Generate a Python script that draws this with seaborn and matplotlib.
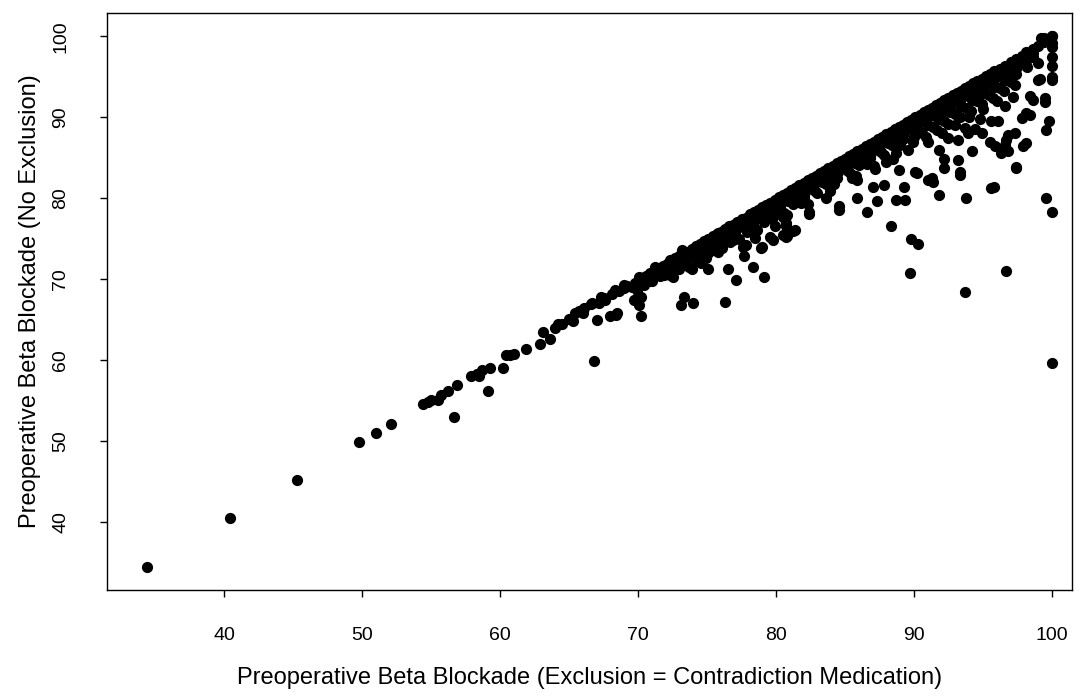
import seaborn as sns
import pandas as pd
import matplotlib.pyplot as plt

# lower tail, x < 64 (excl = exclusion, no_excl = no exclusion)
tail_excl = [34.4, 40.4, 45.3, 49.8, 51.0, 52.1, 54.4, 54.8, 55.0, 55.5, 55.7, 56.2, 56.9, 56.7,
             57.9, 58.3, 58.5, 58.7, 59.3, 59.1, 60.2, 60.4, 60.7, 61.0, 61.9, 62.9, 63.1, 63.6]
tail_no_excl = [34.4, 40.4, 45.2, 49.8, 51.0, 52.1, 54.6, 54.8, 55.1, 55.0, 55.7, 56.2, 56.9, 52.9,
                58.0, 58.2, 58.0, 58.8, 59.0, 56.2, 59.0, 60.6, 60.6, 60.7, 61.4, 62.0, 63.4, 62.6]

# 64 - 70
mid_excl = [64.0, 64.2, 64.5, 65.0, 65.3, 65.4, 65.7, 66.0, 66.1, 66.6, 66.7, 67.0, 66.8, 67.2,
            67.3, 67.5, 67.6, 68.0, 68.1, 68.4, 68.5, 68.3, 68.6, 69.0, 69.0, 69.2, 69.6, 69.7,
            69.9, 70.1, 70.2, 70.25, 69.8, 70.1, 70.3, 70.5, 69.9, 70.4, 70.6]
mid_no_excl = [64.0, 64.5, 64.4, 65.1, 64.8, 65.8, 66.0, 65.8, 66.4, 66.9, 67.0, 64.95, 59.9, 67.1,
               67.8, 67.6, 67.4, 65.4, 68.2, 65.6, 65.85, 68.7, 68.5, 68.9, 69.3, 69.1, 69.0, 67.4,
               67.6, 66.8, 65.4, 67.8, 69.5, 70.3, 70.1, 70.3, 68.7, 69.3, 70.4]

# 70 - 80 band
band70_excl = [70.9, 71.2, 71.5, 71.8, 72.1, 72.4, 72.7, 73.0, 73.3, 73.6, 73.9, 74.2, 74.5, 74.8,
               75.1, 75.4, 75.7, 76.0, 76.3, 76.6, 76.9, 77.2, 77.5, 77.8, 78.1, 78.4, 78.7, 79.0,
               79.3, 79.6, 79.9,
               71.0, 71.6, 72.2, 72.8, 73.4, 74.0, 74.6, 75.2, 75.8, 76.4, 77.0, 77.6, 78.2, 78.8,
               79.4, 72.5, 73.7, 74.9, 76.1, 77.3, 78.5, 79.7,
               71.9, 73.0, 74.3, 75.5, 76.7, 77.9, 79.1, 73.1, 75.9, 78.3, 79.9]
band70_no_excl = [70.8, 70.9, 71.3, 71.6, 71.9, 72.2, 72.6, 72.8, 73.2, 73.4, 73.7, 74.1, 74.3, 74.7,
                  74.9, 75.3, 75.6, 75.8, 76.2, 76.5, 76.7, 77.1, 77.4, 77.6, 78.0, 78.3, 78.5, 78.9,
                  79.2, 79.4, 79.8,
                  69.8, 70.4, 71.0, 71.5, 72.2, 72.8, 73.4, 74.0, 74.5, 75.2, 75.8, 76.4, 77.0, 77.5,
                  78.2, 70.3, 71.5, 72.6, 73.8, 75.0, 76.2, 77.4,
                  70.5, 71.2, 72.3, 73.6, 74.6, 75.8, 77.0, 71.8, 74.4, 76.8, 78.6]

# 70 - 80 below the band
low70_excl = [70.9, 71.2, 72.0, 72.3, 72.3, 73.2, 73.3, 73.1, 74.0, 74.2, 75.1, 75.6, 75.8, 76.3,
              76.0, 76.5, 77.1, 77.6, 77.7, 78.3, 78.9, 79.1, 79.6, 79.6, 80.5, 81.2, 80.5, 80.8,
              76.9, 77.8, 78.5, 78.6, 78.0, 79.5, 80.3, 80.7, 73.9, 74.6, 75.1, 75.8]
low70_no_excl = [69.7, 71.5, 70.7, 70.5, 72.4, 73.6, 67.8, 66.8, 67.0, 72.4, 71.3, 73.6, 73.4, 67.2,
                 75.25, 71.3, 69.9, 74.0, 72.8, 71.5, 73.8, 70.3, 75.25, 78.1, 77.7, 75.9, 75.5, 75.3,
                 74.8, 74.2, 75.05, 76.1, 76.7, 78.1, 78.1, 76.9, 71.3, 72.0, 73.2, 75.7]

# 80 - 90 band
band80_excl = [80.2, 80.5, 80.8, 81.1, 81.4, 81.7, 82.0, 82.3, 82.6, 82.9, 83.2, 83.5, 83.8, 84.1,
               84.4, 84.7, 85.0, 85.3, 85.6, 85.9, 86.2, 86.5, 86.8, 87.1, 87.4, 87.7, 88.0, 88.3,
               88.6, 88.9, 89.2, 89.5, 89.8,
               80.3, 80.9, 81.5, 82.1, 82.7, 83.3, 83.9, 84.5, 85.1, 85.7, 86.3, 86.9, 87.5, 88.1,
               88.7, 89.3, 89.9, 80.6, 81.8, 83.0, 84.2, 85.4, 86.6, 87.8, 89.0, 90.0,
               83.6, 85.9, 87.2, 88.5, 89.6,
               80.4, 81.0, 81.6, 82.2, 82.8, 83.4, 84.0, 84.6, 85.2, 85.8, 86.4, 87.0, 87.6, 88.2,
               88.8, 89.4,
               81.2, 82.0, 82.8, 83.6, 84.4, 85.2, 86.0, 86.8, 87.6, 88.4, 89.2,
               82.3, 83.9, 85.5, 87.1, 88.7, 89.9]
band80_no_excl = [80.1, 80.4, 80.7, 81.0, 81.3, 81.6, 81.9, 82.2, 82.5, 82.8, 83.1, 83.4, 83.7, 84.0,
                  84.3, 84.6, 84.9, 85.2, 85.5, 85.8, 86.1, 86.4, 86.7, 87.0, 87.3, 87.6, 87.9, 88.2,
                  88.5, 88.8, 89.1, 89.4, 89.7,
                  79.0, 79.6, 80.2, 80.8, 81.4, 82.0, 82.6, 83.2, 83.8, 84.4, 85.0, 85.6, 86.2, 86.8,
                  87.4, 88.0, 88.6, 78.2, 79.4, 80.6, 81.8, 83.0, 84.2, 85.4, 86.6, 87.6,
                  80.0, 82.3, 83.6, 84.9, 86.0,
                  79.7, 80.3, 80.9, 81.6, 82.1, 82.8, 83.3, 84.0, 84.5, 85.2, 85.7, 86.4, 86.9, 87.6,
                  88.1, 88.8,
                  79.3, 80.2, 80.9, 81.8, 82.5, 83.4, 84.1, 85.0, 85.7, 86.6, 87.3,
                  79.3, 80.9, 82.5, 84.0, 85.6, 86.9]

# 80 - 90 below the band
low80_excl = [80.8, 82.4, 84.6, 84.6, 85.9, 86.6, 87.35, 87.8, 88.7, 89.35, 89.3, 88.3, 89.8, 90.3,
              91.0, 90.1, 80.7, 79.95, 81.4, 80.7, 79.8, 79.0, 85.8, 87.0, 87.95, 88.9, 82.4]
low80_no_excl = [77.9, 78.1, 79.0, 78.6, 80.0, 78.3, 79.6, 81.65, 79.8, 79.8, 81.4, 76.6, 74.9, 74.3,
                 82.3, 83.3, 76.5, 76.5, 76.1, 75.25, 74.8, 74.0, 82.7, 81.4, 84.5, 83.5, 78.3]

# 90 - 100 band
band90_excl = [90.1, 90.4, 90.7, 91.0, 91.3, 91.6, 91.9, 92.2, 92.5, 92.8, 93.1, 93.4, 93.7, 94.0,
               94.3, 94.6, 94.9, 95.2, 95.5, 95.8, 96.2, 96.6, 97.0, 97.4, 97.8, 98.2, 98.6, 99.0,
               99.4, 99.8, 100.0,
               90.3, 90.9, 91.5, 92.1, 92.7, 93.3, 93.9, 94.5, 95.1, 95.7, 96.3, 96.9, 97.5,
               90.6, 91.4, 92.2, 93.0, 93.8, 94.6, 95.4, 96.2, 97.0,
               91.0, 92.0, 93.0, 94.0, 95.0, 96.0, 91.8, 93.2, 94.4, 95.6,
               90.8, 91.4, 92.0, 92.6, 93.2, 93.8, 94.4, 95.0, 95.6, 96.2, 96.8, 97.4, 98.0, 98.6,
               91.0, 91.8, 92.6, 93.4, 94.2, 95.0, 95.8, 96.6, 97.4, 98.2,
               90.9, 91.7, 92.5, 93.3, 94.1, 94.9, 95.7, 96.5, 97.3,
               92.5, 93.7, 94.8, 96.6, 97.2]
band90_no_excl = [90.0, 90.3, 90.6, 90.9, 91.2, 91.5, 91.8, 92.1, 92.4, 92.7, 93.0, 93.3, 93.6, 93.9,
                  94.2, 94.5, 94.8, 95.1, 95.4, 95.7, 96.0, 96.4, 96.8, 97.2, 97.6, 98.0, 98.4, 98.8,
                  99.3, 99.6, 100.0,
                  89.0, 89.6, 90.2, 90.8, 91.4, 92.0, 92.6, 93.2, 93.8, 94.4, 95.0, 95.6, 96.2,
                  88.0, 88.8, 89.6, 90.4, 91.2, 92.0, 92.8, 93.6, 94.4,
                  87.0, 88.0, 89.0, 90.0, 91.0, 92.0, 86.0, 87.2, 88.6, 89.6,
                  90.1, 90.7, 91.4, 92.0, 92.6, 93.2, 93.8, 94.4, 95.0, 95.6, 96.2, 96.8, 97.4, 98.0,
                  89.0, 89.8, 90.6, 91.4, 92.2, 93.0, 93.8, 94.6, 95.4, 96.2,
                  87.6, 88.4, 89.2, 90.0, 90.8, 91.6, 92.4, 93.2, 94.0,
                  87.5, 88.7, 89.8, 91.4, 92.5]

# 90 - 100 scattered
high_excl = [91.35, 91.8, 93.8, 95.8, 99.6, 100.0, 89.7, 96.7, 93.7, 100.0, 97.4, 99.8, 99.6, 99.5,
             100.0, 100.0, 100.0, 99.2, 98.5, 99.0, 98.1, 99.0, 100.0, 98.6, 98.1, 97.9, 96.8, 96.7,
             97.3, 95.9, 94.2, 94.9, 93.9, 93.2, 93.3, 92.2, 92.2, 91.3, 90.2, 100.0, 99.1, 98.4,
             99.5, 98.4, 97.8, 98.1, 97.4, 96.8, 96.6, 96.3, 95.5, 96.1, 93.3, 91.3, 95.6, 100.0,
             98.6, 98.1, 99.4, 100.0]
high_no_excl = [82.05, 80.4, 80.0, 81.4, 80.0, 78.3, 70.7, 71.0, 68.4, 59.6, 83.7, 89.5, 88.4, 92.4,
                96.3, 99.2, 100.0, 99.8, 98.1, 96.7, 97.0, 94.6, 94.6, 92.2, 90.5, 86.4, 85.8, 87.2,
                88.0, 86.4, 85.8, 88.0, 88.0, 84.7, 82.9, 84.9, 83.7, 82.3, 83.1, 95.0, 94.8, 92.6,
                91.9, 90.3, 89.9, 86.8, 83.9, 87.8, 86.6, 85.6, 87.0, 89.5, 83.3, 82.5, 81.2, 97.5,
                97.5, 98.1, 99.8, 98.75]

excl = (tail_excl + mid_excl + band70_excl + low70_excl + band80_excl + low80_excl
        + band90_excl + high_excl)
no_excl = (tail_no_excl + mid_no_excl + band70_no_excl + low70_no_excl + band80_no_excl
           + low80_no_excl + band90_no_excl + high_no_excl)
df = pd.DataFrame({'excl': excl, 'no_excl': no_excl})

sns.set_style('white')
plt.rcParams['font.family'] = ['Liberation Sans', 'DejaVu Sans']
plt.rcParams['text.color'] = 'black'
plt.rcParams['axes.labelcolor'] = 'black'

fig = plt.figure(figsize=(10.8, 6.98), dpi=100)
ax = fig.add_axes([107 / 1080, 1 - 590 / 698, (1072 - 107) / 1080, (590 - 13) / 698])
sns.scatterplot(x='excl', y='no_excl', data=df, ax=ax, color='black', marker='o',
                s=65, linewidth=0)

ax.set_xlim(31.52, 101.45)
ax.set_ylim(31.55, 102.9)
ticks = [40, 50, 60, 70, 80, 90, 100]
ax.set_xticks(ticks)
ax.set_yticks(ticks)
ax.tick_params(axis='both', direction='out', length=5, width=1, colors='black',
               labelsize=14, bottom=True, left=True)
ax.tick_params(axis='x', pad=22)
ax.tick_params(axis='y', pad=22)
for lab in ax.get_yticklabels():
    lab.set_rotation(90)
    lab.set_va('center')
for sp in ax.spines.values():
    sp.set_color('black')
    sp.set_linewidth(1)
ax.set_xlabel('Preoperative Beta Blockade (Exclusion = Contradiction Medication)',
              fontsize=17, labelpad=16, color='black')
ax.set_ylabel('Preoperative Beta Blockade (No Exclusion)', fontsize=17, labelpad=8,
              color='black')

fig.savefig('out.png', dpi=100)
